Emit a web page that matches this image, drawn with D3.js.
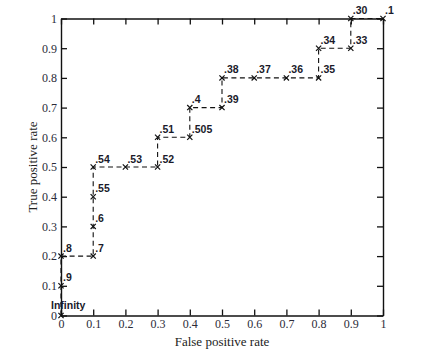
<!DOCTYPE html>
<html>
<head>
<meta charset="utf-8">
<script src="https://cdn.jsdelivr.net/npm/d3@7"></script>
<style>
  body { margin: 0; background: #fff; }
  svg { display: block; }
</style>
</head>
<body>
<svg id="chart" width="427" height="352"></svg>
<script>
// ROC curve points, in order along the curve
const fpr = [0, 0, 0, 0.1, 0.1, 0.1, 0.1, 0.2, 0.3, 0.3, 0.4, 0.4, 0.5, 0.5, 0.6, 0.7, 0.8, 0.8, 0.9, 0.9, 1];
const tpr = [0, 0.1, 0.2, 0.2, 0.3, 0.4, 0.5, 0.5, 0.5, 0.6, 0.6, 0.7, 0.7, 0.8, 0.8, 0.8, 0.8, 0.9, 0.9, 1, 1];
const thresholds = ["Infinity", ".9", ".8", ".7", ".6", ".55", ".54", ".53", ".52", ".51", ".505",
  ".4", ".39", ".38", ".37", ".36", ".35", ".34", ".33", ".30", ".1"];
const ticks = [0, 0.1, 0.2, 0.3, 0.4, 0.5, 0.6, 0.7, 0.8, 0.9, 1];

const margin = { left: 61, right: 44, top: 18.5, bottom: 36.5 };
const W = 427, H = 352;

const svg = d3.select("#chart");
const x = d3.scaleLinear().domain([0, 1]).range([margin.left, W - margin.right]);
const y = d3.scaleLinear().domain([0, 1]).range([H - margin.bottom, margin.top]);

const fmt = (d) => (d === 0 || d === 1 ? String(d) : d.toFixed(1));
const tickColor = "#2b2b38";

// axes with inward ticks on all four sides
const axBottom = svg.append("g").attr("transform", `translate(0,${y(0)})`)
  .call(d3.axisBottom(x).tickValues(ticks).tickFormat(fmt).tickSizeInner(-6).tickSizeOuter(0).tickPadding(4));
const axTop = svg.append("g").attr("transform", `translate(0,${y(1)})`)
  .call(d3.axisTop(x).tickValues(ticks).tickFormat("").tickSizeInner(-6).tickSizeOuter(0));
const axLeft = svg.append("g").attr("transform", `translate(${x(0)},0)`)
  .call(d3.axisLeft(y).tickValues(ticks).tickFormat(fmt).tickSizeInner(-6).tickSizeOuter(0).tickPadding(4));
const axRight = svg.append("g").attr("transform", `translate(${x(1)},0)`)
  .call(d3.axisRight(y).tickValues(ticks).tickFormat("").tickSizeInner(-6).tickSizeOuter(0));

[axBottom, axTop, axLeft, axRight].forEach((g) => {
  g.select(".domain").attr("stroke", "#111").attr("stroke-width", 1.4);
  g.selectAll(".tick line").attr("stroke", "#111").attr("stroke-width", 1.3);
  g.selectAll(".tick text")
    .attr("fill", tickColor)
    .attr("font-family", "Liberation Serif, serif")
    .attr("font-size", 12);
});

// axis titles
svg.append("text")
  .attr("x", (x(0) + x(1)) / 2)
  .attr("y", H - 6)
  .attr("text-anchor", "middle")
  .attr("font-family", "Liberation Serif, serif")
  .attr("font-size", 13)
  .attr("fill", "#222")
  .text("False positive rate");

svg.append("text")
  .attr("transform", `translate(37,${(y(0) + y(1)) / 2}) rotate(-90)`)
  .attr("text-anchor", "middle")
  .attr("font-family", "Liberation Serif, serif")
  .attr("font-size", 13)
  .attr("fill", "#222")
  .text("True positive rate");

const pts = fpr.map((f, i) => ({ f, t: tpr[i], label: thresholds[i] }));

// dashed curve
svg.append("path")
  .datum(pts)
  .attr("fill", "none")
  .attr("stroke", "#111")
  .attr("stroke-width", 1.1)
  .attr("stroke-dasharray", "5,3.5")
  .attr("d", d3.line().x((d) => x(d.f)).y((d) => y(d.t)));

// x markers
const s = 2.6;
svg.append("g").selectAll("path")
  .data(pts)
  .join("path")
  .attr("d", (d) => {
    const cx = x(d.f), cy = y(d.t);
    return `M${cx - s},${cy - s}L${cx + s},${cy + s}M${cx - s},${cy + s}L${cx + s},${cy - s}`;
  })
  .attr("stroke", "#111")
  .attr("stroke-width", 1.2);

// threshold labels
svg.append("g").selectAll("text")
  .data(pts)
  .join("text")
  .attr("x", (d) => (d.label === "Infinity" ? x(d.f) - 10 : x(d.f) + 2))
  .attr("y", (d) => (d.label === "Infinity" ? y(d.t) - 6.5 : y(d.t) - 4.5))
  .attr("font-family", "Liberation Sans, Arial, sans-serif")
  .attr("font-weight", "bold")
  .attr("font-size", 10.5)
  .attr("fill", "#1a1a2a")
  .text((d) => d.label);
</script>
</body>
</html>
